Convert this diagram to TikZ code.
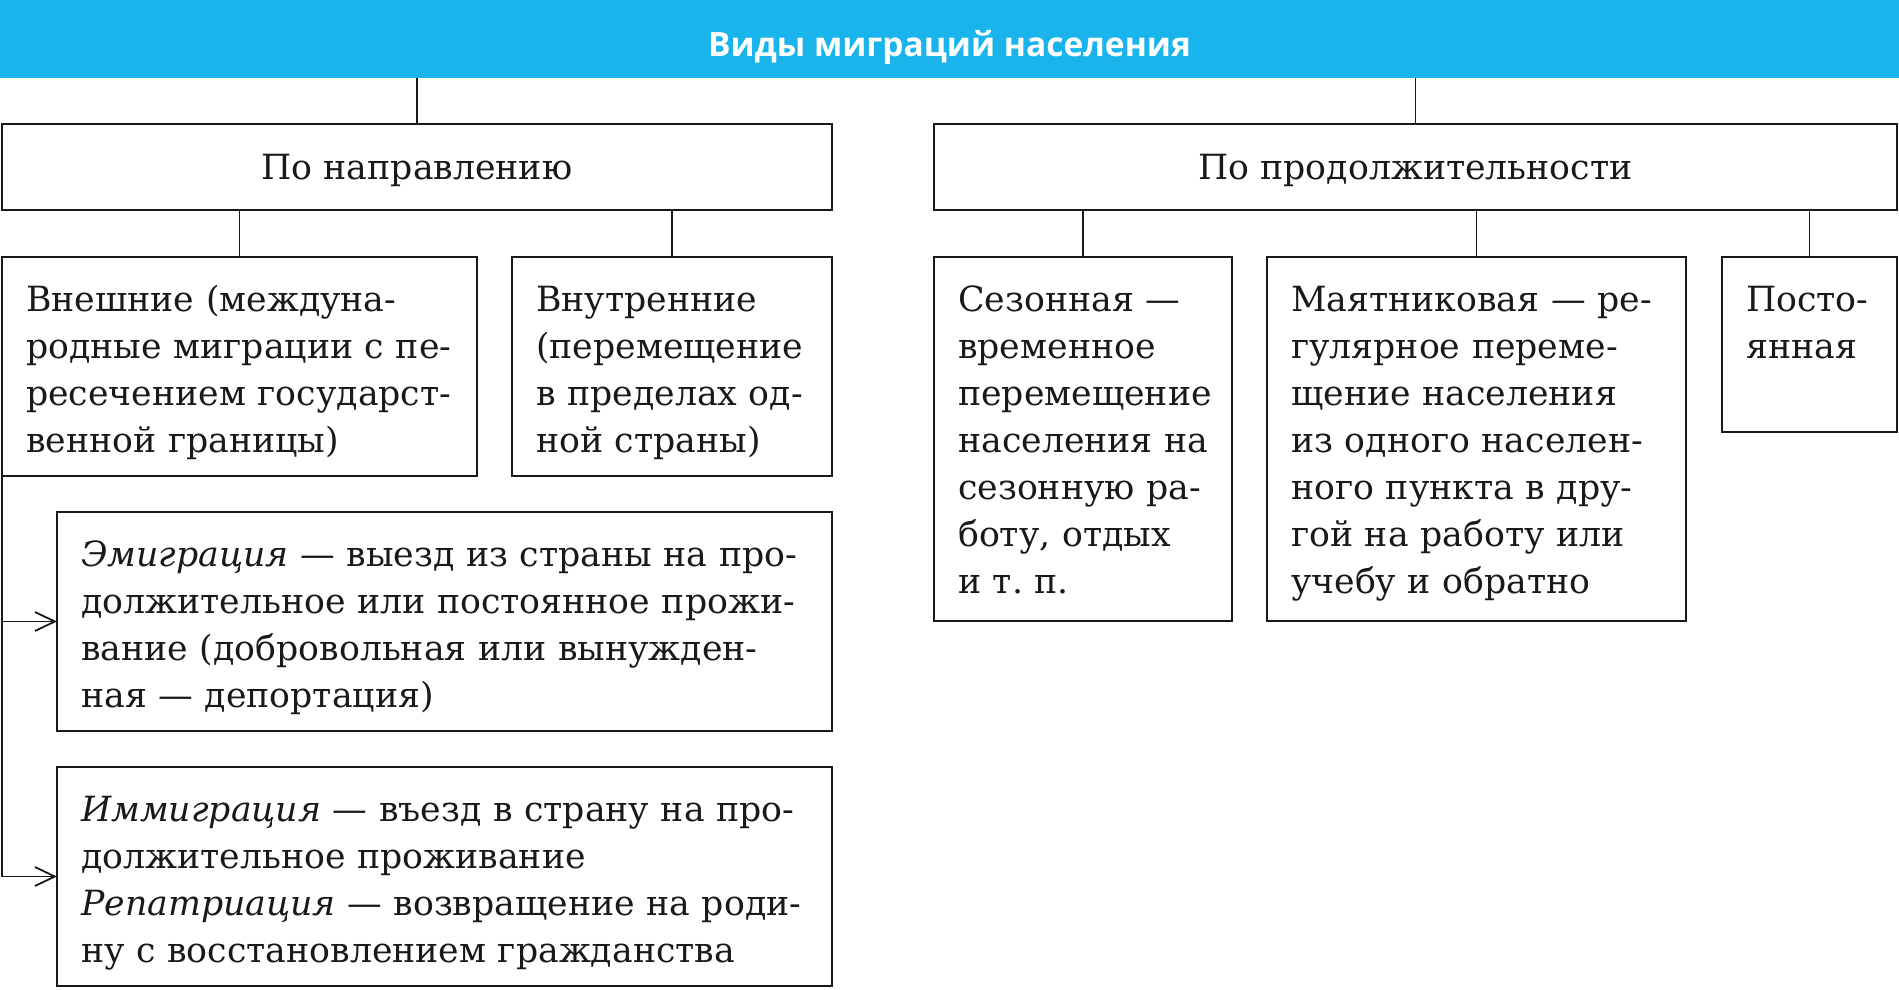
\documentclass[tikz,border=0pt]{standalone}
\usepackage{fontspec}
\setmainfont{DejaVu Serif}
\newfontfamily\titlefont{Open Sans}
\usetikzlibrary{arrows.meta}
\definecolor{barblue}{RGB}{26,180,236}
\definecolor{ink}{RGB}{25,25,25}
\frenchspacing
\begin{document}
\begin{tikzpicture}[x=1pt,y=-1pt,
  box/.style={draw=ink, line width=2.4pt, rectangle, inner sep=0pt, outer sep=0pt, anchor=north west},
  body/.style={anchor=base west, inner sep=0pt, align=left, text width=#1, text=ink,
    font=\fontsize{34.7}{47}\selectfont},
  head/.style={text=ink, font=\fontsize{34.7}{47}\selectfont},
  conn/.style={draw=ink, line width=1.8pt},
  arr/.style={conn, -{Straight Barb[length=20pt,width=19pt,line width=1.8pt]}}
]
\useasboundingbox (0,0) rectangle (1899,990);
% title bar
\node[fill=barblue, anchor=north west, minimum width=1899pt, minimum height=78pt, inner sep=0pt, outer sep=0pt] (title) at (0,0) {};
\node[text=white, font=\titlefont\bfseries\fontsize{33.5}{38}\selectfont] (titlet) at ([yshift=-8pt]title.center) {Виды миграций населения};
% level 1
\node[box, minimum width=830pt, minimum height=86pt] (pn) at (2,124) {};
\node[head] (pnt) at ([yshift=-3pt]pn.center) {По направлению};
\node[box, minimum width=963pt, minimum height=86pt] (pp) at (934,124) {};
\node[head] (ppt) at ([yshift=-3pt]pp.center) {По продолжительности};
% level 2 left
\node[box, minimum width=475pt, minimum height=219pt] (ext) at (2,257) {};
\node[body=470pt] (extt) at (26,311) {Внешние (междуна-\\родные миграции с пе-\\ресечением государст-\\венной границы)};
\node[box, minimum width=320pt, minimum height=219pt] (int) at (512,257) {};
\node[body=320pt] (intt) at (536,311) {Внутренние\\(перемещение\\в пределах од-\\ной страны)};
% level 2 right
\node[box, minimum width=298pt, minimum height=364pt] (ses) at (934,257) {};
\node[body=300pt] (sest) at (958,311) {Сезонная —\\временное\\перемещение\\населения на\\сезонную ра-\\боту, отдых\\и т.\ п.};
\node[box, minimum width=419pt, minimum height=364pt] (pend) at (1267,257) {};
\node[body=420pt] (pendt) at (1291,311) {Маятниковая — ре-\\гулярное переме-\\щение населения\\из одного населен-\\ного пункта в дру-\\гой на работу или\\учебу и обратно};
\node[box, minimum width=175pt, minimum height=175pt] (perm) at (1722,257) {};
\node[body=180pt] (permt) at (1746,311) {Посто-\\янная};
% level 3
\node[box, minimum width=775pt, minimum height=219pt] (emi) at (57,512) {};
\node[body=780pt] (emit) at (81,566) {\textit{Эмиграция} — выезд из страны на про-\\должительное или постоянное прожи-\\вание (добровольная или вынужден-\\ная — депортация)};
\node[box, minimum width=775pt, minimum height=219pt] (imm) at (57,767) {};
\node[body=780pt] (immt) at (81,821) {\textit{Иммиграция} — въезд в страну на про-\\должительное проживание\\\textit{Репатриация} — возвращение на роди-\\ну с восстановлением гражданства};
% connectors
\draw[conn] (pn.north) -- (pn.north |- title.south);
\draw[conn] (pp.north) -- (pp.north |- title.south);
\draw[conn] (ext.north) -- (ext.north |- pn.south);
\draw[conn] (int.north) -- (int.north |- pn.south);
\draw[conn] (ses.north) -- (ses.north |- pp.south);
\draw[conn] (pend.north) -- (pend.north |- pp.south);
\draw[conn] (perm.north) -- (perm.north |- pp.south);
\draw[arr] (ext.south west) |- (emi.west);
\draw[arr] (ext.south west) |- (imm.west);
\end{tikzpicture}
\end{document}
